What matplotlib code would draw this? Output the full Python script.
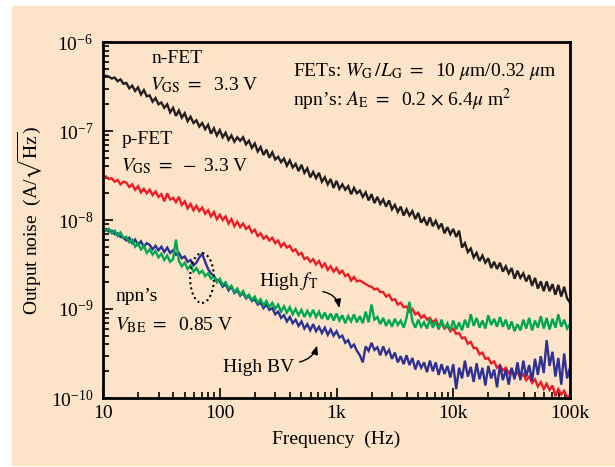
import numpy as np
import matplotlib
matplotlib.use('Agg')
import matplotlib.pyplot as plt
from matplotlib.patches import Rectangle, Ellipse
from matplotlib.ticker import NullFormatter

plt.rcParams['font.family'] = 'Liberation Serif'
plt.rcParams['mathtext.fontset'] = 'stix'

# frequency grid, 0.025 decade steps from 10 Hz to 100 kHz
freq = np.logspace(1, 5, 161)

# output noise, stored as log10(A/sqrt(Hz))
nfet_log = [
    -6.39, -6.38, -6.39, -6.41, -6.40, -6.44, -6.42, -6.47,
    -6.46, -6.52, -6.49, -6.55, -6.51, -6.59, -6.54, -6.61,
    -6.60, -6.67, -6.63, -6.70, -6.68, -6.74, -6.70, -6.79,
    -6.74, -6.83, -6.77, -6.85, -6.80, -6.89, -6.84, -6.91,
    -6.88, -6.95, -6.91, -6.98, -6.93, -7.03, -6.97, -7.05,
    -6.99, -7.07, -7.02, -7.10, -7.05, -7.12, -7.07, -7.11,
    -7.07, -7.15, -7.11, -7.19, -7.14, -7.23, -7.18, -7.27,
    -7.21, -7.30, -7.24, -7.32, -7.29, -7.35, -7.31, -7.39,
    -7.33, -7.41, -7.37, -7.45, -7.38, -7.47, -7.42, -7.52,
    -7.46, -7.53, -7.47, -7.57, -7.52, -7.60, -7.54, -7.64,
    -7.56, -7.65, -7.60, -7.66, -7.62, -7.71, -7.64, -7.70,
    -7.67, -7.74, -7.69, -7.78, -7.71, -7.81, -7.74, -7.82,
    -7.77, -7.85, -7.78, -7.88, -7.83, -7.91, -7.85, -7.95,
    -7.88, -7.95, -7.90, -7.99, -7.92, -8.03, -7.98, -8.06,
    -7.97, -8.07, -8.01, -8.09, -8.04, -8.15, -8.08, -8.16,
    -8.10, -8.19, -8.12, -8.31, -8.26, -8.36, -8.32, -8.42,
    -8.37, -8.46, -8.40, -8.48, -8.43, -8.54, -8.47, -8.55,
    -8.48, -8.58, -8.52, -8.60, -8.54, -8.66, -8.57, -8.65,
    -8.60, -8.69, -8.62, -8.74, -8.65, -8.77, -8.69, -8.80,
    -8.69, -8.80, -8.72, -8.84, -8.73, -8.86, -8.75, -8.88,
    -8.93]

pfet_log = [
    -7.52, -7.51, -7.54, -7.53, -7.57, -7.55, -7.60, -7.57,
    -7.58, -7.63, -7.60, -7.66, -7.62, -7.69, -7.65, -7.70,
    -7.66, -7.72, -7.68, -7.74, -7.71, -7.79, -7.70, -7.77,
    -7.75, -7.80, -7.74, -7.83, -7.79, -7.87, -7.82, -7.89,
    -7.84, -7.90, -7.86, -7.93, -7.89, -7.96, -7.91, -7.99,
    -7.94, -8.00, -7.96, -8.04, -7.99, -8.07, -8.02, -8.08,
    -8.04, -8.10, -8.07, -8.14, -8.11, -8.18, -8.15, -8.21,
    -8.18, -8.23, -8.20, -8.26, -8.23, -8.30, -8.26, -8.31,
    -8.29, -8.35, -8.33, -8.39, -8.37, -8.44, -8.42, -8.47,
    -8.44, -8.50, -8.46, -8.53, -8.49, -8.56, -8.52, -8.58,
    -8.54, -8.60, -8.57, -8.63, -8.61, -8.68, -8.64, -8.69,
    -8.68, -8.70, -8.72, -8.74, -8.75, -8.78, -8.77, -8.81,
    -8.81, -8.86, -8.84, -8.90, -8.89, -8.95, -8.93, -8.98,
    -8.97, -9.03, -9.00, -9.06, -9.04, -9.10, -9.07, -9.12,
    -9.10, -9.15, -9.12, -9.19, -9.16, -9.22, -9.19, -9.25,
    -9.22, -9.28, -9.27, -9.33, -9.32, -9.39, -9.37, -9.44,
    -9.44, -9.51, -9.49, -9.56, -9.55, -9.61, -9.59, -9.66,
    -9.63, -9.69, -9.66, -9.72, -9.68, -9.75, -9.71, -9.77,
    -9.73, -9.80, -9.76, -9.83, -9.79, -9.87, -9.82, -9.90,
    -9.84, -9.91, -9.86, -9.98, -9.90, -9.96, -9.92, -9.99,
    -9.97]

high_ft_log = [
    -8.09, -8.12, -8.10, -8.15, -8.12, -8.18, -8.14, -8.20,
    -8.19, -8.25, -8.22, -8.30, -8.26, -8.33, -8.29, -8.37,
    -8.33, -8.39, -8.35, -8.42, -8.38, -8.45, -8.40, -8.47,
    -8.44, -8.22, -8.46, -8.52, -8.48, -8.55, -8.51, -8.58,
    -8.54, -8.60, -8.57, -8.63, -8.60, -8.66, -8.63, -8.70,
    -8.66, -8.73, -8.70, -8.77, -8.74, -8.81, -8.77, -8.84,
    -8.80, -8.87, -8.84, -8.90, -8.86, -8.93, -8.89, -8.96,
    -8.91, -8.98, -8.93, -9.00, -8.95, -9.03, -8.97, -9.04,
    -8.98, -9.06, -9.00, -9.07, -9.01, -9.09, -9.02, -9.08,
    -9.01, -9.09, -9.03, -9.11, -9.04, -9.12, -9.05, -9.13,
    -9.05, -9.13, -9.07, -9.16, -9.08, -9.14, -9.06, -9.15,
    -9.08, -9.16, -9.03, -9.15, -8.95, -9.12, -9.09, -9.17,
    -9.10, -9.19, -9.12, -9.20, -9.11, -9.18, -9.13, -9.21,
    -9.10, -8.92, -9.14, -9.21, -9.12, -9.20, -9.15, -9.22,
    -9.11, -9.21, -9.14, -9.23, -9.12, -9.22, -9.16, -9.24,
    -9.13, -9.23, -9.15, -9.24, -9.12, -9.21, -9.06, -9.19,
    -9.10, -9.21, -9.13, -9.22, -9.07, -9.18, -9.11, -9.20,
    -9.09, -9.20, -9.12, -9.23, -9.14, -9.25, -9.17, -9.24,
    -9.12, -9.22, -9.10, -9.24, -9.13, -9.21, -9.08, -9.22,
    -9.10, -9.23, -9.11, -9.21, -9.06, -9.20, -9.12, -9.22,
    -9.17]

high_bv_log = [
    -8.09, -8.11, -8.13, -8.12, -8.16, -8.15, -8.19, -8.20,
    -8.23, -8.20, -8.26, -8.22, -8.28, -8.24, -8.30, -8.26,
    -8.28, -8.33, -8.29, -8.34, -8.30, -8.36, -8.31, -8.37,
    -8.34, -8.39, -8.37, -8.43, -8.41, -8.47, -8.45, -8.51,
    -8.48, -8.42, -8.38, -8.47, -8.55, -8.60, -8.63, -8.68,
    -8.69, -8.75, -8.72, -8.79, -8.75, -8.82, -8.79, -8.85,
    -8.82, -8.88, -8.85, -8.91, -8.89, -8.95, -8.93, -8.99,
    -8.95, -9.01, -8.99, -9.06, -9.03, -9.10, -9.07, -9.14,
    -9.09, -9.16, -9.12, -9.19, -9.14, -9.22, -9.17, -9.24,
    -9.17, -9.25, -9.20, -9.27, -9.21, -9.29, -9.23, -9.30,
    -9.25, -9.32, -9.30, -9.38, -9.35, -9.43, -9.40, -9.47,
    -9.52, -9.60, -9.42, -9.47, -9.38, -9.46, -9.43, -9.52,
    -9.42, -9.51, -9.46, -9.56, -9.49, -9.60, -9.53, -9.62,
    -9.52, -9.63, -9.55, -9.68, -9.58, -9.66, -9.60, -9.71,
    -9.58, -9.70, -9.60, -9.74, -9.62, -9.73, -9.64, -9.77,
    -9.62, -9.90, -9.66, -9.78, -9.58, -9.76, -9.65, -9.82,
    -9.61, -9.79, -9.66, -9.86, -9.64, -9.78, -9.68, -9.88,
    -9.63, -9.80, -9.68, -9.85, -9.66, -9.79, -9.60, -9.80,
    -9.58, -9.76, -9.63, -9.81, -9.56, -9.74, -9.53, -9.72,
    -9.35, -9.64, -9.48, -9.76, -9.55, -9.85, -9.50, -9.78,
    -9.66]

series = [
    (nfet_log, '#231f20'),
    (pfet_log, '#ed1c24'),
    (high_bv_log, '#2e3192'),
    (high_ft_log, '#00a651'),
]

peach = '#fde4c8'

fig = plt.figure(figsize=(6.15, 4.67), dpi=100)
fig.patches.append(Rectangle((12 / 615, 2 / 467), 1, 459 / 467,
                             transform=fig.transFigure, color=peach, zorder=-10))
ax = fig.add_axes([103 / 615, 69 / 467, 467 / 615, 356 / 467])
ax.set_facecolor('none')

for vals, col in series:
    ax.plot(freq, 10 ** np.array(vals), color=col, lw=1.7, solid_joinstyle='miter')

ax.set_xscale('log')
ax.set_yscale('log')
ax.set_xlim(10, 1e5)
ax.set_ylim(1e-10, 1e-6)

ax.set_xticks([10, 100, 1e3, 1e4, 1e5])
ax.set_xticklabels(['10', '100', '1k', '10k', '100k'])
ax.xaxis.set_minor_formatter(NullFormatter())
ax.yaxis.set_minor_formatter(NullFormatter())
ax.tick_params(which='both', direction='in', top=False, right=False,
               labelsize=14, width=1.2)
ax.tick_params(which='major', length=7)
ax.tick_params(which='minor', length=4)
ax.tick_params(axis='y', pad=7)
ax.tick_params(axis='x', pad=5)
for sp in ax.spines.values():
    sp.set_linewidth(2)

ax.set_xlabel('Frequency  (Hz)', fontsize=14, labelpad=6)
ax.set_ylabel(r'Output noise  (A/$\sqrt{\mathrm{Hz}}$)', fontsize=14, labelpad=4)

fs = 14
tx = dict(transform=ax.transAxes, fontsize=fs, va='center', ha='left')
ax.text(0.105, 0.955, 'n-FET', **tx)
ax.text(0.101, 0.880, r'$V_{\mathrm{GS}}\ =\ $ 3.3 V', **tx)
ax.text(0.039, 0.725, 'p-FET', **tx)
ax.text(0.039, 0.650, r'$V_{\mathrm{GS}}\ =\ -$ 3.3 V', **tx)
ax.text(0.407, 0.918, r'FETs: $W_{\mathrm{G}}\,/L_{\mathrm{G}}\ =\ $ 10 $\mu$m/0.32 $\mu$m', **tx)
ax.text(0.407, 0.838, r'npn’s: $A_{\mathrm{E}}\ =\ $ 0.2 $\times$ 6.4$\mu$ m$^2$', **tx)
ax.text(0.026, 0.284, 'npn’s', **tx)
ax.text(0.026, 0.205, r'$V_{\mathrm{BE}}\ =\ $ 0.85 V', **tx)
ax.text(0.334, 0.328, r'High $f_{\mathrm{T}}$', **tx)
ax.text(0.257, 0.087, 'High BV', **tx)

ax.annotate('', xy=(0.507, 0.245), xytext=(0.465, 0.300), xycoords='axes fraction',
            arrowprops=dict(arrowstyle='-|>,head_length=0.5,head_width=0.2',
                            color='black', lw=1,
                            connectionstyle='arc3,rad=-0.4'))
ax.annotate('', xy=(0.460, 0.155), xytext=(0.415, 0.100), xycoords='axes fraction',
            arrowprops=dict(arrowstyle='-|>,head_length=0.5,head_width=0.2',
                            color='black', lw=1,
                            connectionstyle='arc3,rad=0.35'))

ax.add_patch(Ellipse((0.212, 0.337), 0.051, 0.140, transform=ax.transAxes,
                     fill=False, ec='black', lw=1.5, ls=(0, (1, 1.5)), zorder=5))

fig.savefig('out.png', dpi=100)
